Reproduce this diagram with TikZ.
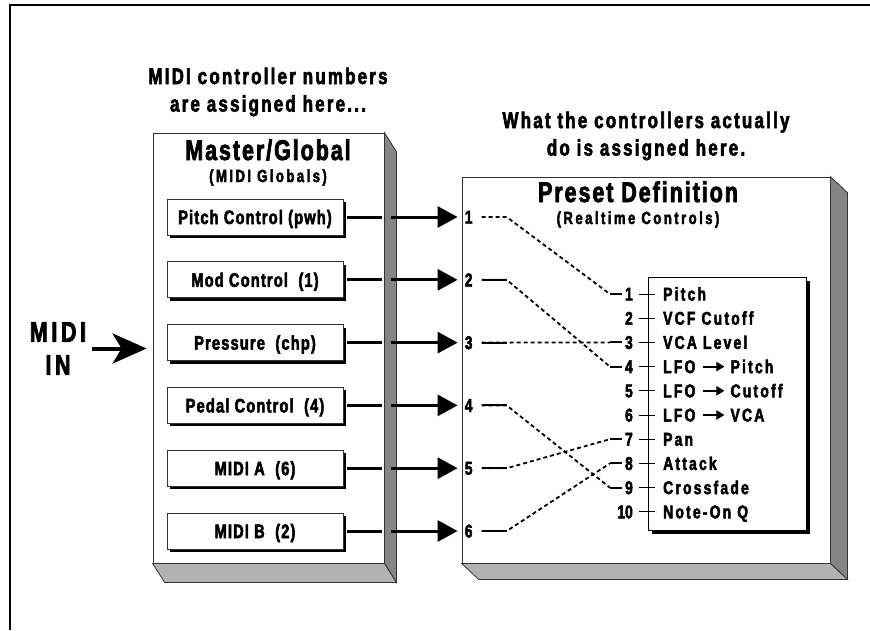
\documentclass[tikz,border=0pt]{standalone}
\usepackage{fontspec}
\setmainfont{Liberation Sans}[UprightFont=* Bold, FakeStretch=0.75, FakeBold=2.6]
\usepackage{tikz}
\usetikzlibrary{positioning,arrows.meta,shadows}

\newcommand{\lfoto}{\hspace{7pt}\tikz[baseline=0pt]{\path (0pt,0pt); \draw[line width=2.2pt,-{Triangle[length=8pt,width=9pt]}] (0pt,6.5pt) -- (21pt,6.5pt);}\hspace{5pt}}

\begin{document}
\begin{tikzpicture}[
    x=1pt, y=-1pt, node distance=26pt,
    font=\fontsize{18}{20}\selectfont,
    ttl/.style={align=center, inner sep=0pt, font=\fontsize{22.5}{27.5}\selectfont\addfontfeature{LetterSpace=10}},
    head/.style={inner sep=0pt, anchor=base, font=\fontsize{28.5}{30}\selectfont\addfontfeature{LetterSpace=7}},
    sub/.style={inner sep=0pt, anchor=base, font=\fontsize{17.5}{18}\selectfont\addfontfeature{LetterSpace=14}},
    panel/.style={draw=black!80, fill=white, line width=0.8pt, inner sep=0pt},
    sidef/.style={draw=black!80, fill=black!48, line width=0.8pt},
    basef/.style={draw=black!80, fill=black!30, line width=0.8pt},
    ctl/.style={draw=black!80, fill=white, line width=0.8pt, minimum width=176pt, minimum height=36pt,
      inner sep=0pt, text height=14pt, text depth=0pt,
      font=\fontsize{19.5}{20}\selectfont\addfontfeature{LetterSpace=6},
      drop shadow={shadow xshift=3pt, shadow yshift=-3pt, opacity=1, fill=black}},
    num/.style={inner sep=3pt, text height=13pt, text depth=0pt, font=\fontsize{18.5}{20}\selectfont},
    item/.style={inner sep=0pt, anchor=west, text height=13pt, text depth=0pt,
      font=\fontsize{18.5}{20}\selectfont\addfontfeature{LetterSpace=12}},
    wire/.style={line width=2pt},
    link/.style={line width=1.8pt, dash pattern=on 4pt off 3pt},
    feed/.style={line width=3pt, -{Triangle[length=20pt,width=21pt]}}]
  \useasboundingbox (0,0) rectangle (870,630);
  \draw[line width=1.2pt] (10,630) |- (870,5);

  \node[ttl] (t1) at (268,92) {MIDI controller numbers\\are assigned here...};
  \node[ttl] (t2) at (646,136) {What the controllers actually\\do is assigned here.};

  % master / global panel
  \node[panel, minimum width=231pt, minimum height=430pt] (mg) at (268.5,348) {};
  \draw[sidef] (mg.north east) -- ++(12,19) -- ([shift={(12,19)}]mg.south east) -- (mg.south east) -- cycle;
  \draw[basef] (mg.south west) -- ++(12,19) -- ([shift={(12,19)}]mg.south east) -- (mg.south east) -- cycle;
  \node[head] (mgt) at (268,160) {Master/Global};
  \node[sub] (mgs) at (268,182) {(MIDI Globals)};

  \node[ctl] (pc) at (255,217) {Pitch Control (pwh)};
  \node[ctl, below=of pc] (mc) {Mod Control\ \ (1)};
  \node[ctl, below=of mc] (pr) {Pressure\ \ (chp)};
  \node[ctl, below=of pr] (pd) {Pedal Control\ \ (4)};
  \node[ctl, below=of pd] (ma) {MIDI A\ \ (6)};
  \node[ctl, below=of ma] (mb) {MIDI B\ \ (2)};

  \node[align=center, inner sep=0pt, font=\fontsize{28.5}{33}\selectfont\addfontfeature{LetterSpace=13}] (midi) at (58,348.5) {MIDI\\IN};
  \draw[line width=4pt, -{Stealth[length=34pt, width=30pt, inset=9pt]}, shorten <=6pt, shorten >=6pt]
    (midi.east) -- (midi.east -| mg.west);

  % preset definition panel
  \node[panel, minimum width=368pt, minimum height=386pt] (pdef) at (646,370) {};
  \draw[sidef] (pdef.north east) -- ++(17,16) -- ([shift={(17,16)}]pdef.south east) -- (pdef.south east) -- cycle;
  \draw[basef] (pdef.south west) -- ++(17,16) -- ([shift={(17,16)}]pdef.south east) -- (pdef.south east) -- cycle;
  \node[head] (pdt) at (638,202) {Preset Definition};
  \node[sub] (pds) at (638,224) {(Realtime Controls)};

  \coordinate (gl) at ([xshift=-2pt]mg.east);
  \coordinate (gr) at ([xshift=7pt]mg.east);
  \foreach \b [count=\i] in {pc,mc,pr,pd,ma,mb} {
    \node[num, anchor=west] (n\i) at (pdef.west |- \b) {\i};
    \draw[wire, line width=3pt] ([xshift=4pt]\b.east) -- (\b -| gl);
    \draw[feed, shorten >=4pt] (\b -| gr) -- (n\i.west);
  }

  % realtime control list
  \node[panel, draw=black, minimum width=158pt, minimum height=253pt,
    drop shadow={shadow xshift=4pt, shadow yshift=-4pt, opacity=1, fill=black}] (lst) at (727,403.5) {};
  \foreach \t [count=\i] in {Pitch, VCF Cutoff, VCA Level, LFO\lfoto Pitch, LFO\lfoto Cutoff,
      LFO\lfoto VCA, Pan, Attack, Crossfade, Note-On Q} {
    \node[num, anchor=east] (r\i) at (636,{294+24.2*(\i-1)}) {\i};
    \node[item] (v\i) at (663,{294+24.2*(\i-1)}) {\t};
    \draw[line width=0.8pt] ([xshift=3pt]r\i.east) -- ([xshift=-8pt]v\i.west);
  }

  \foreach \i/\j in {1/1,2/4,3/3,4/9,5/7,6/8} {
    \draw[link] ([xshift=6pt]n\i.east) -- ++(25,0) -- ([xshift=-12pt]r\j.west);
    \draw[wire] ([xshift=-12pt]r\j.west) -- (r\j.west);
  }
  \foreach \i in {2,...,6}
    \draw[wire] ([xshift=6pt]n\i.east) -- ++(25,0);
\end{tikzpicture}
\end{document}
